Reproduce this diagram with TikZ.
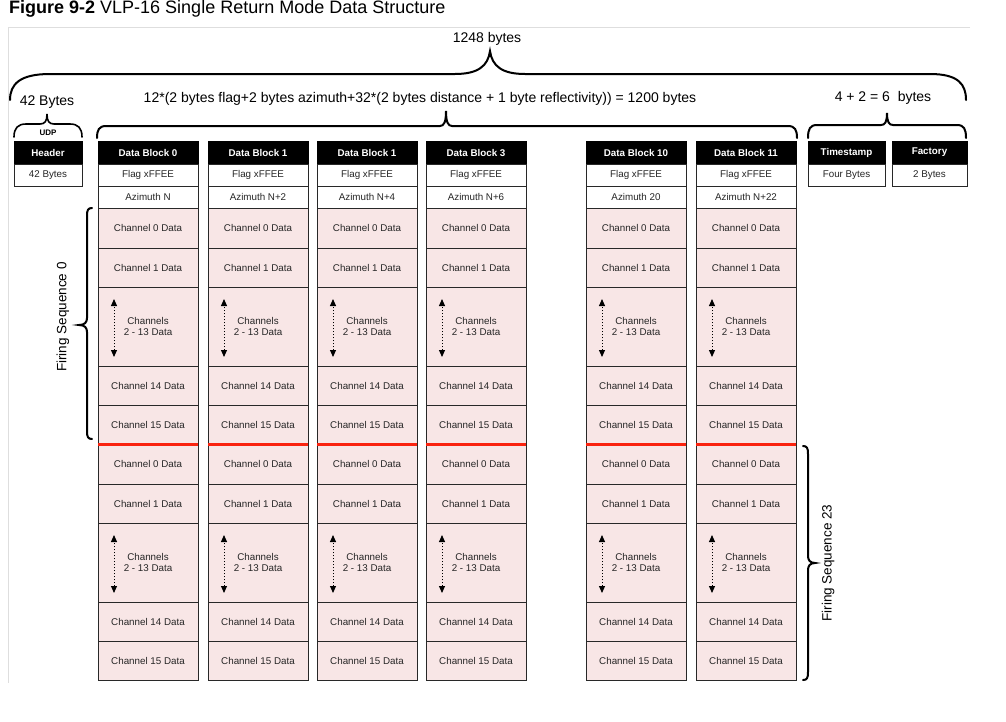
\documentclass[tikz,border=0pt]{standalone}
\usepackage{fontspec}
\setmainfont{Liberation Sans}
\usetikzlibrary{positioning,arrows.meta}
\definecolor{cellpink}{RGB}{248,230,230}
\definecolor{seqred}{RGB}{250,35,15}
\definecolor{framegray}{RGB}{222,222,222}
\definecolor{cellline}{RGB}{40,40,40}

\begin{document}
\begin{tikzpicture}[x=1pt,y=-1pt]
\tikzstyle{blockhead}=[rectangle, anchor=north west, minimum width=100pt, minimum height=23pt, inner sep=0pt, outer sep=0pt, fill=black, draw=black, line width=1pt, text=white, font=\fontsize{9.8}{11}\selectfont\bfseries]
\tikzstyle{fieldbox}=[rectangle, minimum width=100pt, minimum height=22pt, inner sep=0pt, outer sep=0pt, draw=cellline, line width=1pt, fill=white, text=black!85, font=\fontsize{9.8}{11}\selectfont]
\tikzstyle{chancell}=[fieldbox, fill=cellpink, minimum height=39pt]
\tikzstyle{toplabel}=[inner sep=0pt, font=\fontsize{14}{16}\selectfont]
\tikzstyle{bracepath}=[line width=2pt, line cap=round]
\tikzstyle{seqline}=[seqred, line width=3pt]
\tikzstyle{chanarrow}=[{Triangle[length=7pt,width=6pt]}-{Triangle[length=7pt,width=6pt]}, dash pattern=on 1pt off 2pt, line width=1pt]
\useasboundingbox (0,0) rectangle (1006,721);

	\node[anchor=base west, inner sep=0pt, font=\fontsize{18}{20}\selectfont] (title) at (9,13) {\textbf{Figure 9-2} VLP-16 Single Return Mode Data Structure};
	\draw[framegray, line width=0.8pt] (970,27) -- (8,27) -- (8,683);

	% sizes over the packet
	\node[toplabel] (total) at (487,39) {1248 bytes};
	\node[toplabel] (hdlen) at (47,102) {42 Bytes};
	\node[toplabel] (blocklen) at (420,99) {12*(2 bytes flag+2 bytes azimuth+32*(2 bytes distance + 1 byte reflectivity)) = 1200 bytes};
	\node[toplabel] (taillen) at (883,98) {4 + 2 = 6\ \ bytes};
	\draw[bracepath] (10,100) .. controls (10,84) and (20,74) .. (50,74) -- (455,74) .. controls (478,74) and (488,66) .. (490,51) .. controls (492,66) and (502,74) .. (525,74) -- (930,74) .. controls (958,74) and (966,84) .. (966,100);
	\draw[bracepath, line width=1.6pt] (14,137) .. controls (14,128) and (18,124) .. (26,124) -- (40,124) .. controls (45,124) and (47,121) .. (47,114) .. controls (47,121) and (49,124) .. (54,124) -- (70,124) .. controls (78,124) and (82,128) .. (82,137);
	\draw[bracepath] (97,138) .. controls (97,130) and (99,126) .. (106,126) -- (440,126) .. controls (444,126) and (446,122) .. (446,111) .. controls (446,122) and (448,126) .. (452,126) -- (788,126) .. controls (795,126) and (797,130) .. (797,138);
	\draw[bracepath] (808,138) .. controls (808,129) and (810,125) .. (817,125) -- (881,125) .. controls (885,125) and (887,122) .. (887,113) .. controls (887,122) and (889,125) .. (893,125) -- (957,125) .. controls (964,125) and (966,129) .. (966,138);

	% header and tail
	\node[font=\fontsize{8}{9}\selectfont\bfseries, inner sep=0pt] (udp) at (48,133) {UDP};
	\node[blockhead, minimum width=68pt] (udp-hd) at (14,141) {Header};
	\node[fieldbox, minimum width=68pt, below=0pt of udp-hd] (udp-sz) {42 Bytes};
	\node[blockhead, minimum width=77pt] (ts-hd) at (808,141) {Timestamp};
	\node[fieldbox, minimum width=77pt, below=0pt of ts-hd] (ts-sz) {Four Bytes};
	\node[blockhead, minimum width=75pt] (fac-hd) at (892,141) {Factory};
	\node[fieldbox, minimum width=75pt, below=0pt of fac-hd] (fac-sz) {2 Bytes};

	% data blocks
	\foreach \x/\n/\t/\az in {98/0/Data Block 0/Azimuth N, 208/1/Data Block 1/Azimuth N+2, 317/2/Data Block 1/Azimuth N+4, 426/3/Data Block 3/Azimuth N+6, 586/10/Data Block 10/Azimuth 20, 696/11/Data Block 11/Azimuth N+22}{
	\node[blockhead] (c\n-hd) at (\x,141) {\t};
	\node[fieldbox, below=0pt of c\n-hd] (c\n-flag) {Flag xFFEE};
	\node[fieldbox, below=0pt of c\n-flag] (c\n-az) {\az};
	\foreach \s/\prev in {0/c\n-az, 1/c\n-s0-15}{
		\node[chancell, minimum height=40pt, below=0pt of \prev] (c\n-s\s-0) {Channel 0 Data};
		\node[chancell, below=0pt of c\n-s\s-0] (c\n-s\s-1) {Channel 1 Data};
		\node[chancell, minimum height=79pt, align=center, below=0pt of c\n-s\s-1] (c\n-s\s-2) {Channels\\2 - 13 Data};
		\node[chancell, below=0pt of c\n-s\s-2] (c\n-s\s-14) {Channel 14 Data};
		\node[chancell, below=0pt of c\n-s\s-14] (c\n-s\s-15) {Channel 15 Data};
		\coordinate[below right=12pt and 16pt of c\n-s\s-2.north west] (c\n-s\s-up);
		\coordinate[above right=9pt and 16pt of c\n-s\s-2.south west] (c\n-s\s-dn);
		\draw[chanarrow] (c\n-s\s-dn) -- (c\n-s\s-up);
	}
	\draw[seqline] (c\n-s0-15.south west) -- (c\n-s0-15.south east);
	}

	% firing sequences
	\node[toplabel, font=\fontsize{13.5}{15}\selectfont, rotate=90] (seq0) at (63,317) {Firing Sequence 0};
	\node[toplabel, font=\fontsize{13.5}{15}\selectfont, rotate=90] (seq23) at (828,563) {Firing Sequence 23};
	\draw[bracepath] (92,208) .. controls (88,208) and (87,210) .. (87,216) -- (87,318) .. controls (87,322) and (85,325) .. (79,325) .. controls (85,325) and (87,328) .. (87,332) -- (87,431) .. controls (87,437) and (88,439) .. (92,439);
	\draw[bracepath] (803,446) .. controls (807,446) and (808,448) .. (808,454) -- (808,556) .. controls (808,560) and (810,563) .. (815,563) .. controls (810,563) and (808,566) .. (808,570) -- (808,672) .. controls (808,678) and (807,680) .. (803,680);
\end{tikzpicture}
\end{document}
